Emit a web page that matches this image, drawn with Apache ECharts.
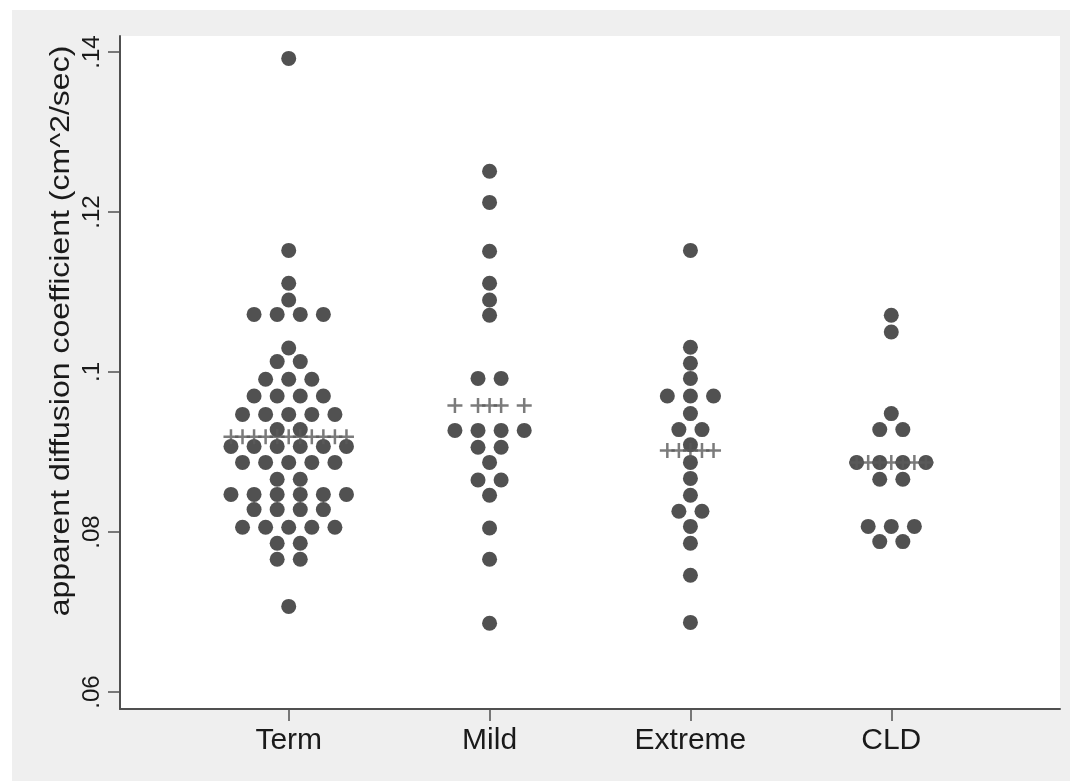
<!DOCTYPE html>
<html>
<head>
<meta charset="utf-8">
<script src="https://cdn.jsdelivr.net/npm/echarts@6/dist/echarts.min.js"></script>
<style>
  html, body { margin: 0; padding: 0; background: #ffffff; }
  #panel { position: absolute; left: 12px; top: 10px; width: 1058px; height: 771px; background: #efefef; }
  #chart { position: absolute; left: 0; top: 0; width: 1070px; height: 781px; }
</style>
</head>
<body>
<div id="panel"></div>
<div id="chart"></div>
<script>
// ---- data (bin values in cm^2/sec, dots per bin) ----
const categories = ['Term', 'Mild', 'Extreme', 'CLD'];

const termBins   = [0.1392, 0.1152, 0.1111, 0.1090, 0.1072, 0.1030, 0.1013, 0.0991, 0.0970, 0.0947, 0.0928, 0.0907, 0.0887, 0.0866, 0.0847, 0.0828, 0.0806, 0.0786, 0.0766, 0.0707];
const termCounts = [1, 1, 1, 1, 4, 1, 2, 3, 4, 5, 2, 6, 5, 2, 6, 4, 5, 2, 2, 1];

const mildBins   = [0.1251, 0.1212, 0.1151, 0.1111, 0.1090, 0.1071, 0.0992, 0.0927, 0.0906, 0.0887, 0.0865, 0.0846, 0.0805, 0.0766, 0.0686];
const mildCounts = [1, 1, 1, 1, 1, 1, 2, 4, 2, 1, 2, 1, 1, 1, 1];

const extremeBins   = [0.1152, 0.1031, 0.1011, 0.0992, 0.0970, 0.0948, 0.0928, 0.0909, 0.0887, 0.0867, 0.0846, 0.0826, 0.0807, 0.0786, 0.0746, 0.0687];
const extremeCounts = [1, 1, 1, 1, 3, 1, 2, 1, 1, 1, 1, 2, 1, 1, 1, 1];

const cldBins   = [0.1071, 0.1050, 0.0948, 0.0928, 0.0887, 0.0866, 0.0807, 0.0788];
const cldCounts = [1, 1, 1, 2, 4, 2, 3, 2];

const groupMeans = [0.0919, 0.0958, 0.0902, 0.0887];

const yTicks = [0.06, 0.08, 0.10, 0.12, 0.14];
const yTickLabels = ['.06', '.08', '.1', '.12', '.14'];
const yTitle = 'apparent diffusion coefficient (cm^2/sec)';

// ---- layout ----
const GRID = { left: 120, top: 36, right: 10, bottom: 72 };
const X_MIN = 0.16, X_MAX = 4.84;
const Y_MIN = 0.057875, Y_MAX = 0.142;
const DOT_GAP_PX = 23.1;
const gridWidth = 1070 - GRID.left - GRID.right;
const dotGap = DOT_GAP_PX * (X_MAX - X_MIN) / gridWidth;

const groups = [
  [termBins, termCounts],
  [mildBins, mildCounts],
  [extremeBins, extremeCounts],
  [cldBins, cldCounts]
];

const dotData = [];
const meanData = [];
groups.forEach(([bins, counts], gi) => {
  const center = gi + 1;
  const offsets = new Set();
  bins.forEach((v, i) => {
    const n = counts[i];
    for (let k = 0; k < n; k++) {
      const off = (k - (n - 1) / 2);
      offsets.add(off);
      dotData.push([center + off * dotGap, v]);
    }
  });
  Array.from(offsets).sort((a, b) => a - b).forEach(off => {
    meanData.push([center + off * dotGap, groupMeans[gi]]);
  });
});

const FONT = '"Liberation Sans", Arial, Helvetica, sans-serif';

const chart = echarts.init(document.getElementById('chart'), null, { renderer: 'canvas' });
chart.setOption({
  animation: false,
  backgroundColor: 'transparent',
  grid: {
    left: GRID.left, top: GRID.top, right: GRID.right, bottom: GRID.bottom,
    show: true, backgroundColor: '#ffffff', borderWidth: 0
  },
  graphic: [{
    type: 'text',
    x: 62, y: 331, rotation: Math.PI / 2, scaleY: 0.84,
    style: {
      text: yTitle, fill: '#1a1a1a', font: '32px "Liberation Sans", Arial, sans-serif',
      align: 'center', verticalAlign: 'middle'
    }
  }],
  xAxis: {
    type: 'value', min: X_MIN, max: X_MAX,
    axisLine: { show: true, lineStyle: { color: '#505050', width: 2 } },
    axisTick: { show: true, length: 12, lineStyle: { color: '#505050', width: 1.5 },
      customValues: categories.map((c, i) => i + 1) },
    axisLabel: { show: true, margin: 17, color: '#1a1a1a', fontSize: 30, fontFamily: FONT,
      customValues: categories.map((c, i) => i + 1),
      formatter: v => categories[Math.round(v) - 1] },
    splitLine: { show: false }
  },
  yAxis: {
    type: 'value', min: Y_MIN, max: Y_MAX,
    axisLine: { show: true, lineStyle: { color: '#505050', width: 2 } },
    axisTick: { show: true, length: 12, lineStyle: { color: '#505050', width: 1.5 },
      customValues: yTicks },
    axisLabel: { show: true, rotate: 90, margin: 16, color: '#1a1a1a', fontSize: 24, fontFamily: FONT,
      customValues: yTicks,
      formatter: v => yTickLabels[yTicks.findIndex(t => Math.abs(t - v) < 1e-6)] },
    splitLine: { show: false }
  },
  series: [
    {
      name: 'dots', type: 'scatter', symbol: 'circle', symbolSize: 15,
      itemStyle: { color: '#262626' },
      data: dotData, z: 2
    },
    {
      name: 'mean', type: 'scatter',
      symbol: 'path://M5,0H7V5H12V7H7V12H5V7H0V5H5Z',
      symbolSize: 15,
      itemStyle: { color: '#5a5a5a' },
      data: meanData, z: 3
    }
  ]
});
</script>
</body>
</html>
